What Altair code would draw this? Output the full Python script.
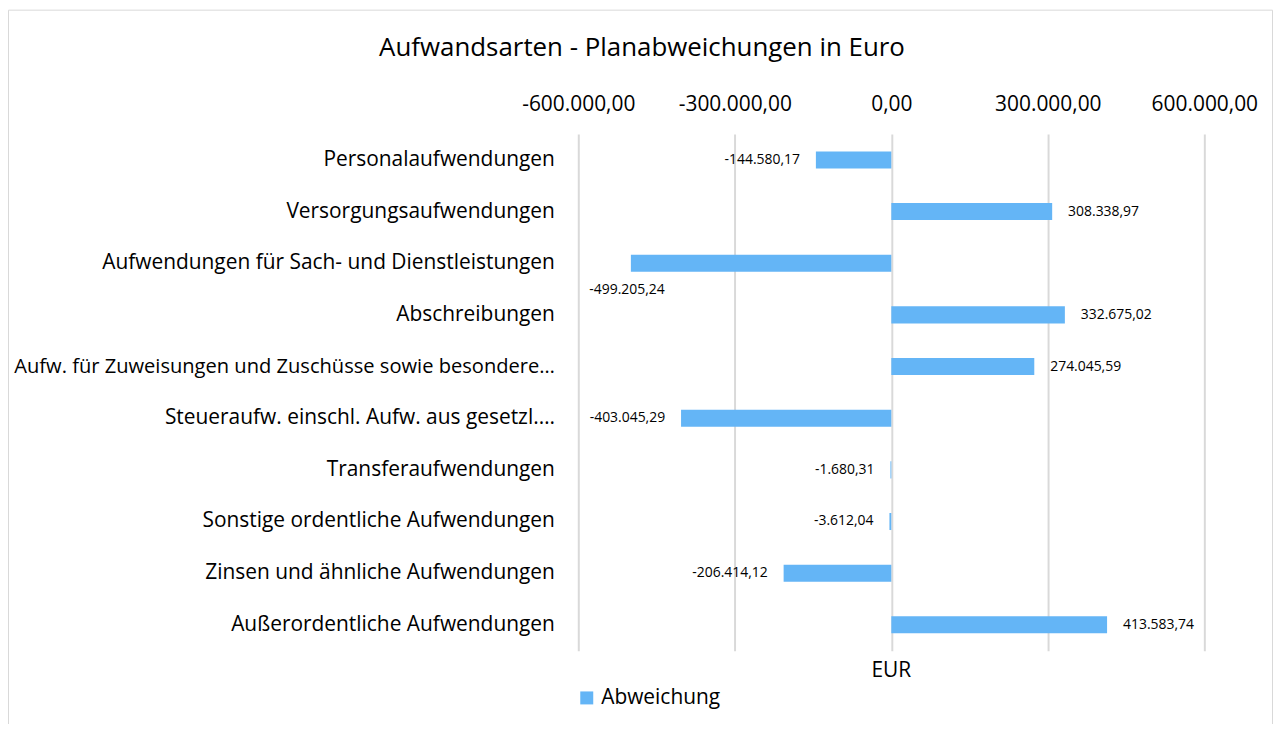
import altair as alt
import pandas as pd

categories = [
    "Personalaufwendungen",
    "Versorgungsaufwendungen",
    "Aufwendungen für Sach- und Dienstleistungen",
    "Abschreibungen",
    "Aufw. für Zuweisungen und Zuschüsse sowie besondere…",
    "Steueraufw. einschl. Aufw. aus gesetzl.…",
    "Transferaufwendungen",
    "Sonstige ordentliche Aufwendungen",
    "Zinsen und ähnliche Aufwendungen",
    "Außerordentliche Aufwendungen",
]
values = [-144580.17, 308338.97, -499205.24, 332675.02, 274045.59,
          -403045.29, -1680.31, -3612.04, -206414.12, 413583.74]
tick_values = [-600000, -300000, 0, 300000, 600000]
series_name = "Abweichung"
title_text = "Aufwandsarten - Planabweichungen in Euro"
axis_title = "EUR"


def de_fmt(v):
    s = f"{v:,.2f}"
    return s.replace(",", "#").replace(".", ",").replace("#", ".")


df = pd.DataFrame({
    "cat": categories,
    "v": values,
    "label": [de_fmt(v) for v in values],
    "series": [series_name] * len(values),
})

FONT = "Open Sans"
W, H = 629, 519
BAR = "#64B5F6"
LBL = 21
DL = 14

x_scale = alt.Scale(domain=[-600000, 600000], nice=False, zero=False)
y_scale = alt.Scale(domain=categories, paddingInner=0.67, paddingOuter=0.335)

label_expr = ("replace(replace(replace(replace(format(datum.value, ',.2f'), regexp(',', 'g'), '#'), "
              "regexp('\\\\.', 'g'), ','), regexp('#', 'g'), '.'), regexp('\u2212', 'g'), '-')")

base = alt.Chart(df)

bars = base.mark_bar().encode(
    x=alt.X("v:Q", scale=x_scale,
            axis=alt.Axis(orient="top", values=tick_values, labelExpr=label_expr,
                          title=None, domain=False, ticks=False, grid=True,
                          gridColor="#d9d9d9", gridWidth=2, labelPadding=20,
                          labelOverlap=False, labelFlush=False,
                          labelFontSize=LBL, labelFont=FONT, labelColor="#000000")),
    y=alt.Y("cat:N", scale=y_scale, sort=categories,
            axis=alt.Axis(title=None, domain=False, ticks=False, labelPadding=24,
                          labelFontSize={"condition": {"test": "length(datum.label) > 45",
                                                       "value": 20.2},
                                         "value": LBL},
                          labelFont=FONT, labelColor="#000000",
                          labelLimit=700)),
    color=alt.Color("series:N", scale=alt.Scale(range=[BAR]),
                    legend=alt.Legend(title=None, orient="none", legendX=-2, legendY=556,
                                      symbolType="square", symbolSize=170,
                                      symbolStrokeWidth=0, labelFontSize=LBL,
                                      labelFont=FONT, labelColor="#000000")),
)

special = "Aufwendungen für Sach- und Dienstleistungen"

neg_labels = base.transform_filter(
    f"datum.v < 0 && datum.cat != '{special}'"
).mark_text(align="right", baseline="middle", dx=-16, fontSize=DL, font=FONT,
            color="#000000").encode(
    x=alt.X("v:Q", scale=x_scale), y=alt.Y("cat:N", scale=y_scale, sort=categories),
    text="label:N")

pos_labels = base.transform_filter("datum.v >= 0").mark_text(
    align="left", baseline="middle", dx=16, fontSize=DL, font=FONT,
    color="#000000").encode(
    x=alt.X("v:Q", scale=x_scale), y=alt.Y("cat:N", scale=y_scale, sort=categories),
    text="label:N")

special_label = base.transform_filter(f"datum.cat == '{special}'").mark_text(
    align="right", baseline="middle", dx=34, dy=27, fontSize=DL, font=FONT,
    color="#000000").encode(
    x=alt.X("v:Q", scale=x_scale), y=alt.Y("cat:N", scale=y_scale, sort=categories),
    text="label:N")

one = pd.DataFrame({"t": [title_text], "e": [axis_title], "z": [0]})

title = alt.Chart(one).mark_text(fontSize=26, font=FONT, color="#000000",
                                 baseline="middle", align="center").encode(
    x=alt.value(64), y=alt.value(-86), text="t:N")

eur = alt.Chart(one).mark_text(fontSize=LBL, font=FONT, color="#000000",
                               baseline="middle", align="center").encode(
    x=alt.X("z:Q", scale=x_scale), y=alt.value(539), text="e:N")

border = alt.Chart(one).mark_rect(fill=None, stroke="#d9d9d9", strokeWidth=1).encode(
    x=alt.value(-572.5), x2=alt.value(697.5), y=alt.value(-124.5), y2=alt.value(640))

chart = alt.layer(border, bars, neg_labels, pos_labels, special_label, title, eur).properties(
    width=W, height=H,
    autosize=alt.AutoSizeParams(type="none"),
    padding={"left": 573, "top": 125, "right": 70, "bottom": 72},
    background="#ffffff",
).configure_view(stroke=None)

chart.save("out.html", embed_options={"renderer": "svg", "actions": False})
